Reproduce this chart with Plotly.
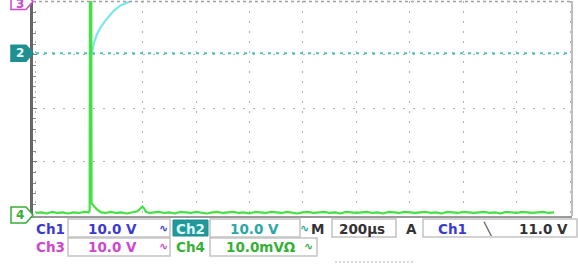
import plotly.graph_objects as go

# ---------------- data (oscilloscope units: time in microseconds, level in divisions) -------------
ch2_time = [209, 213, 218, 228, 240, 255, 270, 290, 315, 340, 365, 420, 480]
ch2_level = [3.03, 3.12, 3.24, 3.38, 3.50, 3.61, 3.71, 3.82, 3.92, 3.98, 4.03, 4.12, 4.18]
ch2_ground = 3.03
ch3_ground = 4.0
ch4_ground = 0.0

ch4_time = [0, 20, 40, 60, 80, 100, 120, 140, 160, 180, 196, 201, 202, 207, 208, 212, 220, 232, 245,
            260, 280, 300, 320, 340, 360, 380, 390, 398, 404, 412, 425, 440, 460, 480, 500, 520, 540,
            560, 580, 600, 620, 640, 660, 680, 700, 720, 740, 760, 780, 800, 820, 840, 860, 880, 900,
            920, 940, 960, 980, 1000, 1020, 1040, 1060, 1080, 1100, 1120, 1140, 1160, 1180, 1200,
            1220, 1240, 1260, 1280, 1300, 1320, 1340, 1360, 1380, 1400, 1420, 1440, 1460, 1480, 1500,
            1520, 1540, 1560, 1580, 1600, 1620, 1640, 1660, 1680, 1700, 1720, 1740, 1760, 1780, 1800,
            1820, 1840, 1860, 1880, 1900, 1920, 1940, 1960, 1980, 2000]
ch4_level = [0.04, 0.05, 0.03, 0.06, 0.04, 0.05, 0.03, 0.05, 0.04, 0.06, 0.05, 0.08, 4.3, 4.3, 0.22, 0.19, 0.15, 0.09, 0.05,
             0.04, 0.06, 0.04, 0.05, 0.03, 0.05, 0.07, 0.12, 0.16, 0.13, 0.06, 0.04, 0.05, 0.06, 0.04, 0.05, 0.03,
             0.06, 0.05, 0.04, 0.06, 0.05, 0.03, 0.05, 0.06, 0.04, 0.05, 0.06, 0.04, 0.05, 0.03, 0.06,
             0.05, 0.04, 0.06, 0.05, 0.04, 0.06, 0.05, 0.03, 0.05, 0.06, 0.04, 0.05, 0.06, 0.04, 0.05,
             0.03, 0.06, 0.05, 0.04, 0.05, 0.06, 0.04, 0.05, 0.03, 0.06, 0.05, 0.04, 0.06, 0.05, 0.04,
             0.05, 0.06, 0.04, 0.05, 0.03, 0.06, 0.05, 0.04, 0.06, 0.05, 0.04, 0.05, 0.06, 0.04, 0.05,
             0.03, 0.06, 0.05, 0.04, 0.06, 0.05, 0.04, 0.05, 0.06, 0.04, 0.05]

row1_labels = ["Ch1", "10.0 V", "Ch2", "10.0 V", "M", "200\u00b5s", "A", "Ch1", "11.0 V"]
row2_labels = ["Ch3", "10.0 V", "Ch4", "10.0mV\u03a9"]

# ---------------- styling ----------------
W, H = 578, 264
L, R, T, B = 33, 6, 1, 48
PW, PH = W - L - R, H - T - B
Y_RANGE = [-0.017, 4.009]

BLUE = "#3b3bcf"
MAG = "#cc48cc"
TEAL = "#2aa6a8"
GREEN = "#36b036"
DARK = "#333333"
FONT = "DejaVu Sans"


def px(x):
    return (x - L) / PW


def py(y):
    return (H - B - y) / PH


def level_to_paper(v):
    return (v - Y_RANGE[0]) / (Y_RANGE[1] - Y_RANGE[0])


fig = go.Figure()

# channel 2 reference line (dotted)
fig.add_trace(go.Scatter(x=[0, 2000], y=[ch2_ground, ch2_ground], mode="lines",
                         line=dict(color="#4cc4c6", width=2, dash="3px,5px"), hoverinfo="skip"))
# channel 2 waveform
fig.add_trace(go.Scatter(x=ch2_time, y=ch2_level, mode="lines",
                         line=dict(color="#7be6ee", width=2.2), hoverinfo="skip"))
# channel 4 waveform
fig.add_trace(go.Scatter(x=ch4_time, y=ch4_level, mode="lines",
                         line=dict(color="#44e044", width=2.2), hoverinfo="skip"))

fig.update_layout(
    width=W, height=H, margin=dict(l=L, r=R, t=T, b=B, autoexpand=False),
    paper_bgcolor="white", plot_bgcolor="white", showlegend=False,
    xaxis=dict(range=[-11.2, 2007.5], dtick=200, tick0=0, showgrid=True,
               gridcolor="#b0b0b0", griddash="2px,8px", gridwidth=1,
               showticklabels=False, zeroline=False, showline=True,
               linecolor="#9a9a9a", linewidth=1.5, mirror=False, ticks=""),
    yaxis=dict(range=Y_RANGE, dtick=1, tick0=0, showgrid=True,
               gridcolor="#b0b0b0", griddash="2px,8px", gridwidth=1,
               showticklabels=False, zeroline=False, showline=True,
               linecolor="#666666", linewidth=3, mirror=False, ticks="inside",
               ticklen=4, tickcolor="#777777",
               minor=dict(dtick=0.2, ticks="inside", ticklen=3, tickcolor="#888888")),
)

shapes = []
annos = []

# right frame edge and top centre line
shapes.append(dict(type="line", xref="paper", yref="paper", x0=1, x1=1, y0=0, y1=1,
                   line=dict(color="#a8a8a8", width=1.5)))
shapes.append(dict(type="line", xref="paper", yref="paper", x0=0, x1=1, y0=level_to_paper(4.0),
                   y1=level_to_paper(4.0), line=dict(color="#a0a0a0", width=1.5, dash="3px,3px")))

# bottom dotted line under labels
shapes.append(dict(type="line", xref="paper", yref="paper", x0=px(335), x1=px(415), y0=py(262), y1=py(262),
                   line=dict(color="#b0b0b0", width=1, dash="2px,2px")))

# label boxes
for (x0, x1, y0, y1) in [(68, 170, 219, 237), (68, 170, 238, 256), (210, 300, 219, 237),
                         (210, 317, 238, 256), (332, 396, 219, 237), (423, 577, 219, 237)]:
    shapes.append(dict(type="rect", xref="paper", yref="paper", x0=px(x0), x1=px(x1), y0=py(y1), y1=py(y0),
                       line=dict(color="#c4c4c4", width=1.5), fillcolor="white"))
# highlighted Ch2 box
shapes.append(dict(type="rect", xref="paper", yref="paper", x0=px(173), x1=px(208), y0=py(236), y1=py(220),
                   line=dict(color="#1d8e90", width=1), fillcolor="#239899"))


def label(text, x, y, color, size=13.5):
    annos.append(dict(text=text, xref="paper", yref="paper", x=px(x), y=py(y), xanchor="left",
                      yanchor="middle", showarrow=False,
                      font=dict(family=FONT, size=size, color=color, weight="bold")))


r1, r2 = 228.5, 247
label(row1_labels[0], 34, r1, BLUE)
label(row1_labels[1], 86, r1, BLUE)
label("\u223f", 157, r1, BLUE, 11)
label(row1_labels[2], 174, r1, "#d8fbfb")
label(row1_labels[3], 228, r1, TEAL)
label("\u223f", 298, r1, TEAL, 11)
label(row1_labels[4], 309, r1, DARK)
label(row1_labels[5], 337, r1, DARK)
label(row1_labels[6], 404, r1, DARK)
label(row1_labels[7], 436, r1, BLUE)
label("\u2572", 481, r1, DARK, 12)
label(row1_labels[8], 517, r1, DARK)

label(row2_labels[0], 34, r2, MAG)
label(row2_labels[1], 86, r2, MAG)
label("\u223f", 157, r2, MAG, 11)
label(row2_labels[2], 174, r2, GREEN)
label(row2_labels[3], 224, r2, GREEN)
label("\u223f", 302, r2, GREEN, 11)

# channel ground markers (pentagon pointing right, anchored at each channel's ground level)
for (num, lvl, fg, fill, edge, shift) in [("3", ch3_ground, MAG, "white", MAG, -3),
                                          ("2", ch2_ground, "#e8ffff", "#1f8f91", "#1f8f91", 0),
                                          ("4", ch4_ground, GREEN, "white", GREEN, 0)]:
    yc = level_to_paper(lvl)
    hh = 8 / PH
    xl, xr, xt = px(11), px(26), px(33)
    path = (f"M {xl},{yc - hh} L {xr},{yc - hh} L {xt},{yc} L {xr},{yc + hh} L {xl},{yc + hh} Z")
    shapes.append(dict(type="path", xref="paper", yref="paper", path=path,
                       line=dict(color=edge, width=1.5), fillcolor=fill))
    annos.append(dict(text=num, xref="paper", yref="paper", x=px(20), y=yc, xanchor="center",
                      yanchor="middle", showarrow=False, yshift=shift,
                      font=dict(family=FONT, size=12, color=fg, weight="bold")))

fig.update_layout(shapes=shapes, annotations=annos)
fig.write_html("out.html", config={"displayModeBar": False},
               post_script="document.body.style.margin='0px';document.body.style.overflow='hidden';")
